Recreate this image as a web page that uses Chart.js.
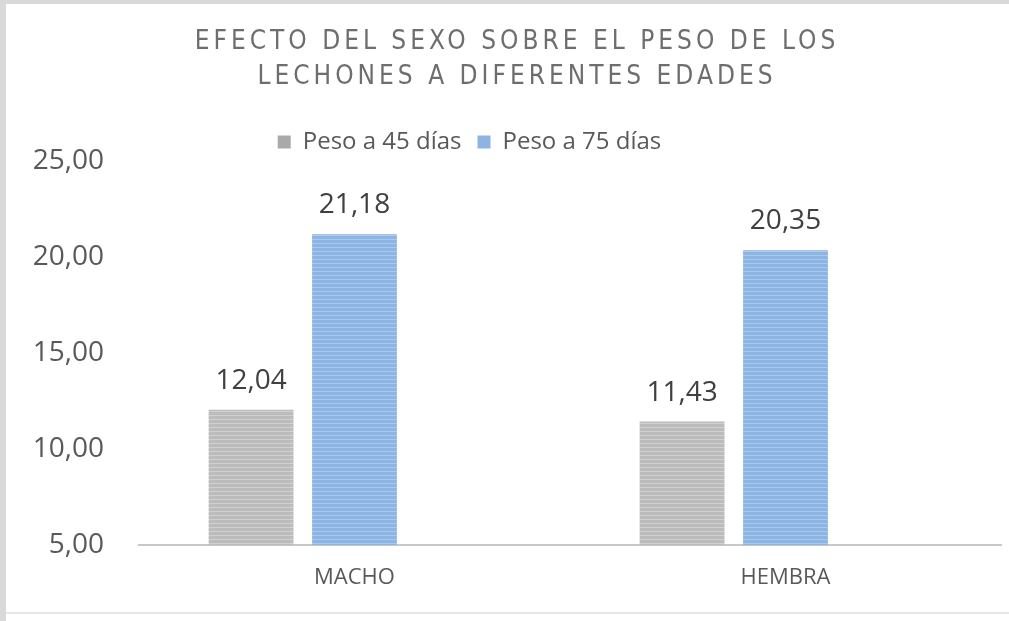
<!DOCTYPE html>
<html>
<head>
<meta charset="utf-8">
<title>Efecto del sexo sobre el peso de los lechones</title>
<script src="https://cdn.jsdelivr.net/npm/chart.js@4.4.1/dist/chart.umd.min.js"></script>
<style>
    html, body { margin: 0; padding: 0; background: #d9d9d9; }
    #frame { position: absolute; left: 6px; top: 4px; width: 1003px; height: 617px; background: #fff; }
    #box { position: relative; width: 1003px; height: 608px; border-bottom: 2px solid #e6e6e6; }
</style>
</head>
<body>
<div id="frame"><div id="box"><canvas id="pesoChart"></canvas></div></div>
<script>
const categories = ['MACHO', 'HEMBRA'];
const seriesNames = ['Peso a 45 días', 'Peso a 75 días'];
const peso45 = [12.04, 11.43];
const peso75 = [21.18, 20.35];
const emptySeries = [null, null]; // the original keeps an empty third slot per group
const yTicks = [5, 10, 15, 20, 25];
const titleLines = ['EFECTO DEL SEXO SOBRE EL PESO DE LOS', 'LECHONES A DIFERENTES EDADES'];

// Format numbers with comma decimals
function fmt(v) {
    return v.toFixed(2).replace('.', ',');
}

// Horizontal stripe texture like the original bars
function stripes(base, light) {
    const c = document.createElement('canvas');
    c.width = 4;
    c.height = 4;
    const g = c.getContext('2d');
    g.fillStyle = base;
    g.fillRect(0, 0, 4, 4);
    g.fillStyle = light;
    g.fillRect(0, 3, 4, 1);
    return g.createPattern(c, 'repeat');
}

const legendColors = ['#a9a9a9', '#8db4e2'];

// Spaced out title, drawn by hand because of the letter spacing
const titlePlugin = {
    id: 'spacedTitle',
    afterDraw(chart) {
        const ctx = chart.ctx;
        ctx.save();
        ctx.font = '26px "DejaVu Sans", sans-serif';
        ctx.fontStretch = 'condensed';
        ctx.letterSpacing = '4px';
        ctx.fillStyle = '#6e6e6e';
        ctx.textAlign = 'center';
        ctx.textBaseline = 'middle';
        titleLines.forEach((line, i) => {
            ctx.fillText(line, 511, 38 + i * 35);
        });
        ctx.restore();
    }
};

// Move the legend a bit to the left like in the original
const legendShift = {
    id: 'legendShift',
    afterLayout(chart) {
        chart.legend.left -= 34;
        chart.legend.right -= 34;
        chart.legend.top += 3;
    }
};

// Values above the bars
const valueLabels = {
    id: 'valueLabels',
    afterDatasetsDraw(chart) {
        const ctx = chart.ctx;
        ctx.save();
        ctx.font = '28px "Open Sans", sans-serif';
        ctx.fillStyle = '#404040';
        ctx.textAlign = 'center';
        ctx.textBaseline = 'alphabetic';
        [0, 1].forEach(di => {
            const meta = chart.getDatasetMeta(di);
            meta.data.forEach((bar, i) => {
                const v = chart.data.datasets[di].data[i];
                ctx.fillText(fmt(v), bar.x, bar.y - 21);
            });
        });
        ctx.restore();
    }
};

const ctx = document.getElementById('pesoChart').getContext('2d');
const pesoChart = new Chart(ctx, {
    type: 'bar',
    data: {
        labels: categories,
        datasets: [{
            label: seriesNames[0],
            data: peso45,
            backgroundColor: stripes('#bcbcbc', '#d0d0d0')
        }, {
            label: seriesNames[1],
            data: peso75,
            backgroundColor: stripes('#8cb5e3', '#a9c8ed')
        }, {
            label: '',
            data: emptySeries,
            backgroundColor: 'rgba(0,0,0,0)'
        }]
    },
    options: {
        responsive: true,
        maintainAspectRatio: false,
        animation: false,
        categoryPercentage: 0.72,
        barPercentage: 0.82,
        layout: {
            padding: { top: 107, left: 0, right: 8, bottom: 21 }
        },
        plugins: {
            title: { display: false },
            tooltip: { enabled: false },
            legend: {
                position: 'top',
                labels: {
                    boxWidth: 13,
                    boxHeight: 13,
                    padding: 16,
                    color: '#595959',
                    font: { family: '"Open Sans", sans-serif', size: 24 },
                    generateLabels(chart) {
                        return seriesNames.map((name, i) => ({
                            text: name,
                            fillStyle: legendColors[i],
                            strokeStyle: legendColors[i],
                            lineWidth: 0,
                            fontColor: '#595959',
                            datasetIndex: i
                        }));
                    }
                }
            }
        },
        scales: {
            x: {
                grid: { display: false, drawTicks: false },
                border: { display: true, color: '#c8c8c8', width: 2 },
                afterFit(scale) {
                    scale.height = 46;
                },
                ticks: {
                    color: '#595959',
                    padding: 20,
                    font: { family: '"Open Sans", sans-serif', size: 22 }
                }
            },
            y: {
                min: 5,
                max: 25,
                grid: { display: false, drawTicks: false },
                border: { display: false },
                afterBuildTicks(scale) {
                    scale.ticks = yTicks.map(v => ({ value: v }));
                },
                afterFit(scale) {
                    scale.width = 133;
                },
                ticks: {
                    color: '#595959',
                    padding: 35,
                    font: { family: '"Open Sans", sans-serif', size: 28 },
                    callback: v => fmt(v)
                }
            }
        }
    },
    plugins: [titlePlugin, legendShift, valueLabels]
});
</script>
</body>
</html>
